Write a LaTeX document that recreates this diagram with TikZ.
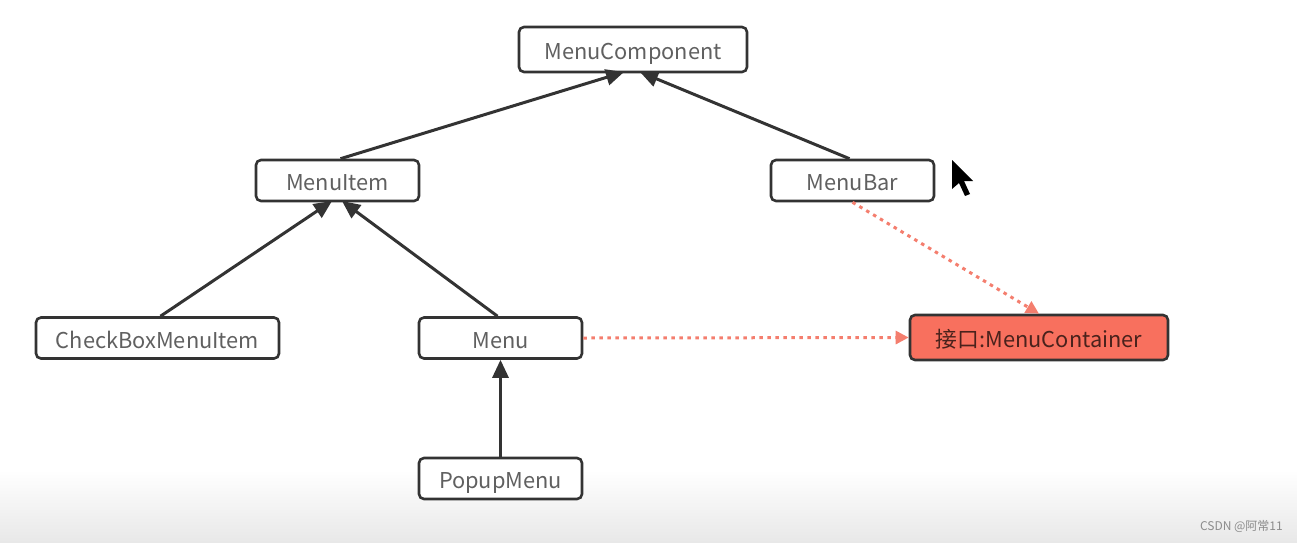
\documentclass[tikz,border=0pt]{standalone}
\usepackage{fontspec}
\setmainfont{Noto Sans CJK SC}
\usetikzlibrary{arrows.meta}
\definecolor{txtgray}{HTML}{606060}
\definecolor{boxline}{HTML}{333333}
\definecolor{ifill}{HTML}{F8705E}
\definecolor{dotc}{HTML}{F47E6E}
\tikzset{
  cls/.style={draw=boxline, line width=2.6pt, rounded corners=5pt, fill=white,
    text=txtgray, font=\fontsize{21.8}{24}\selectfont, inner sep=0pt, minimum height=41pt,
    text height=20pt, text depth=0pt},
  iface/.style={cls, fill=ifill, text=black!70!ifill, minimum height=45pt},
  inherit/.style={draw=boxline, line width=3pt, -{Triangle[length=18pt,width=16pt]}},
  realize/.style={draw=dotc, line width=3pt, dash pattern=on 3.5pt off 4.5pt,
    -{Triangle[length=13pt,width=13pt]}},
}
\begin{document}
\begin{tikzpicture}[x=1pt,y=-1pt]
\shade[top color=white, bottom color=black!9] (0,470) rectangle (1297,542);
\useasboundingbox (0,0) rectangle (1297,542);
\node[cls, minimum width=228pt, minimum height=45pt] (mc) at (633,49.5) {MenuComponent};
\node[cls, minimum width=163pt] (mi) at (337.5,180.5) {MenuItem};
\node[cls, minimum width=163pt] (mb) at (852.5,180.5) {MenuBar};
\node[cls, minimum width=243pt] (cb) at (157.5,338) {CheckBoxMenuItem};
\node[cls, minimum width=163pt] (me) at (500.5,338) {Menu};
\node[cls, minimum width=163pt] (pm) at (500.5,478.5) {PopupMenu};
\node[iface, minimum width=258pt] (ic) at (1039,337.5) {接口:MenuContainer};
\coordinate (mcL) at (624,72);
\coordinate (mcR) at (640,72);
\coordinate (miL) at (332,201);
\coordinate (miR) at (342,201);
\draw[inherit] (mi.north) ++(3,0) -- (mcL);
\draw[inherit] (mb.north) ++(-3,0) -- (mcR);
\draw[inherit] (cb.north) ++(3,0) -- (miL);
\draw[inherit] (me.north) ++(-3,0) -- (miR);
\draw[inherit] (pm.north) -- (me.south);
\draw[realize] (mb.south) -- (ic.north);
\draw[realize] (me.east) -- (ic.west);
% mouse cursor
\fill[black] (952,160) -- (952,189) -- (959,183) -- (965,196) -- (970,194) -- (964,181) -- (973,181) -- cycle;
\node[anchor=east, text=black!45, font=\fontsize{12}{14}\selectfont, inner sep=0pt] (wm) at (1283,526) {CSDN @阿常11};
\end{tikzpicture}
\end{document}
